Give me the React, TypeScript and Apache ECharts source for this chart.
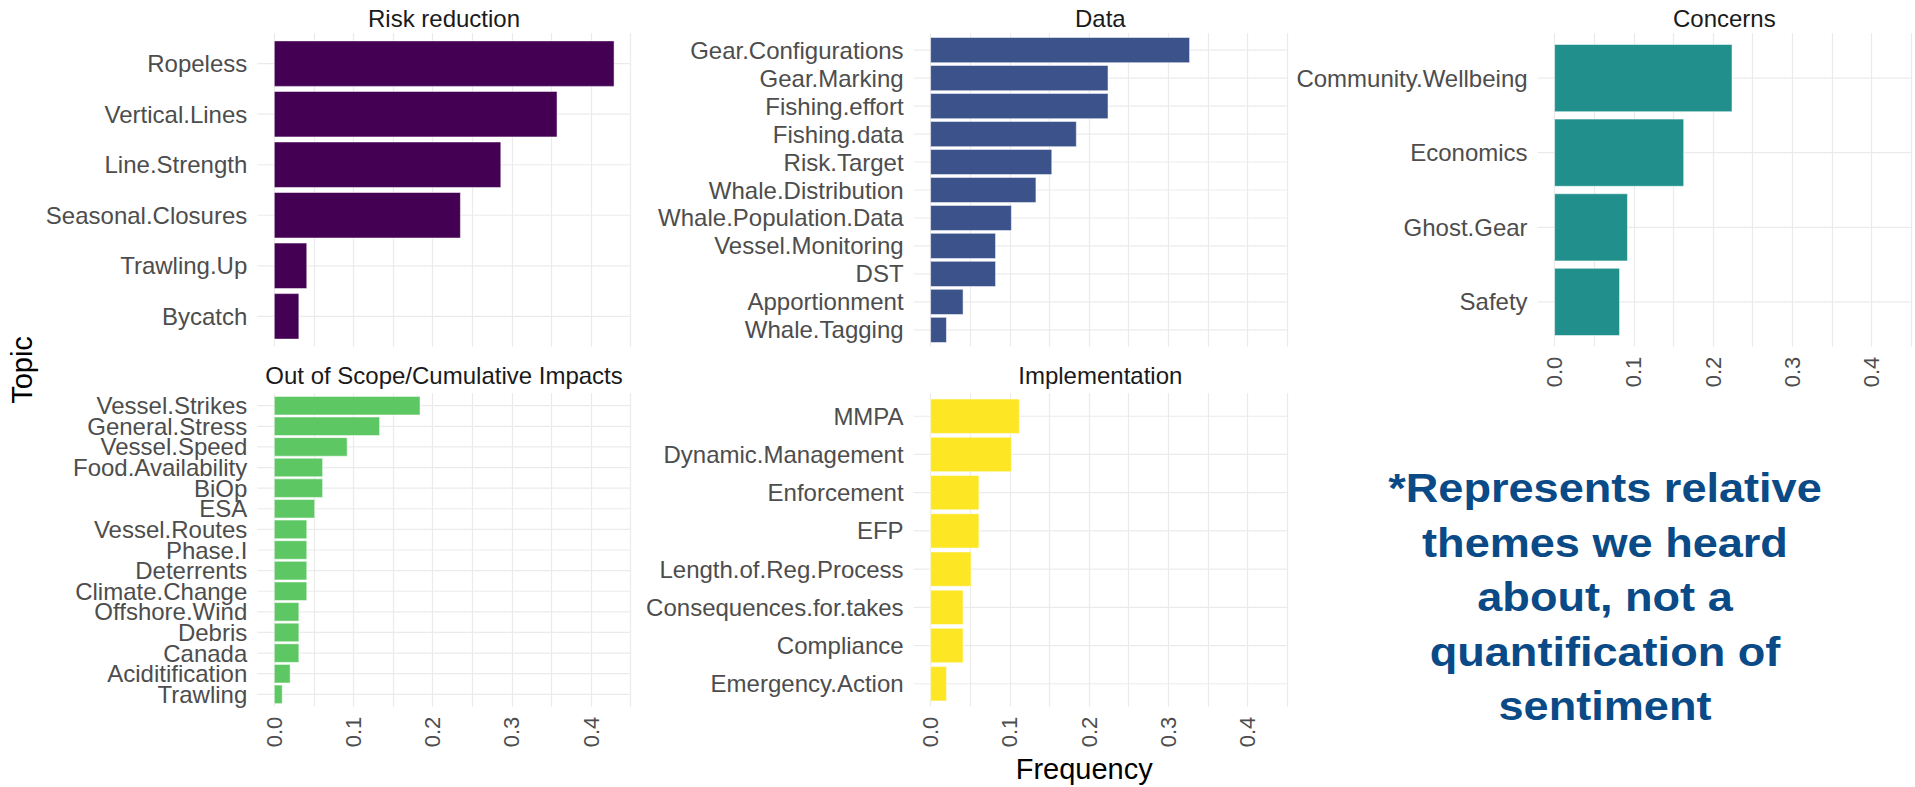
import React, { useEffect, useRef } from 'react';
import * as echarts from 'echarts';

const FONT = '"Liberation Sans", Arial, Helvetica, sans-serif';

// ---- data ----
const riskCategories = ['Ropeless', 'Vertical.Lines', 'Line.Strength', 'Seasonal.Closures', 'Trawling.Up', 'Bycatch'];
const riskValues = [0.429, 0.357, 0.286, 0.235, 0.041, 0.031];

const dataCategories = ['Gear.Configurations', 'Gear.Marking', 'Fishing.effort', 'Fishing.data', 'Risk.Target', 'Whale.Distribution', 'Whale.Population.Data', 'Vessel.Monitoring', 'DST', 'Apportionment', 'Whale.Tagging'];
const dataValues = [0.327, 0.224, 0.224, 0.184, 0.153, 0.133, 0.102, 0.082, 0.082, 0.041, 0.02];

const concernCategories = ['Community.Wellbeing', 'Economics', 'Ghost.Gear', 'Safety'];
const concernValues = [0.224, 0.163, 0.092, 0.082];

const scopeCategories = ['Vessel.Strikes', 'General.Stress', 'Vessel.Speed', 'Food.Availability', 'BiOp', 'ESA', 'Vessel.Routes', 'Phase.I', 'Deterrents', 'Climate.Change', 'Offshore.Wind', 'Debris', 'Canada', 'Aciditification', 'Trawling'];
const scopeValues = [0.184, 0.133, 0.092, 0.061, 0.061, 0.051, 0.041, 0.041, 0.041, 0.041, 0.031, 0.031, 0.031, 0.02, 0.01];

const implCategories = ['MMPA', 'Dynamic.Management', 'Enforcement', 'EFP', 'Length.of.Reg.Process', 'Consequences.for.takes', 'Compliance', 'Emergency.Action'];
const implValues = [0.112, 0.102, 0.061, 0.061, 0.051, 0.041, 0.041, 0.02];

const xTickLabels = ['0.0', '0.1', '0.2', '0.3', '0.4'];

const annotationText = '*Represents relative\nthemes we heard\nabout, not a\nquantification of\nsentiment';

// ---- layout ----
const COL_X0 = [274.3, 930.6, 1554.6];
const ROW_TOP = [33.3, 393.3];
const PANEL_H = 313.4;
const PX_PER_UNIT = 792;
const X_MIN = -0.0214;
const X_MAX = 0.45;
const UNIT = 5; // category spacing in y-axis units
const HALF = 0.45 * UNIT;
const GRID_COLOR = '#EBEBEB';

const panels = [
  { title: 'Risk reduction', cats: riskCategories, vals: riskValues, color: '#440154', col: 0, row: 0, showX: false },
  { title: 'Data', cats: dataCategories, vals: dataValues, color: '#3B528B', col: 1, row: 0, showX: false },
  { title: 'Concerns', cats: concernCategories, vals: concernValues, color: '#21908C', col: 2, row: 0, showX: true },
  { title: 'Out of Scope/Cumulative Impacts', cats: scopeCategories, vals: scopeValues, color: '#5DC863', col: 0, row: 1, showX: true },
  { title: 'Implementation', cats: implCategories, vals: implValues, color: '#FDE725', col: 1, row: 1, showX: true },
];

export default function App() {
  const ref = useRef<HTMLDivElement>(null);

  useEffect(() => {
    if (!ref.current) return;
    const chart = echarts.init(ref.current, undefined, { renderer: 'svg' });

    const grids: any[] = [];
    const xAxes: any[] = [];
    const yAxes: any[] = [];
    const series: any[] = [];
    const graphics: any[] = [];

    panels.forEach((p, k) => {
      const n = p.cats.length;
      grids.push({
        left: COL_X0[p.col],
        top: ROW_TOP[p.row],
        width: X_MAX * PX_PER_UNIT,
        height: PANEL_H,
        containLabel: false,
      });
      xAxes.push({
        type: 'value',
        gridIndex: k,
        min: 0,
        max: X_MAX,
        interval: 0.05,
        axisLine: { show: false, onZero: false },
        axisTick: { show: false },
        splitLine: { show: true, lineStyle: { color: GRID_COLOR, width: 1.2 } },
        axisLabel: {
          show: p.showX,
          rotate: 90,
          margin: 10,
          fontSize: 22,
          fontFamily: FONT,
          color: '#4D4D4D',
          formatter: (v: number) => {
            const t = Math.round(v * 10);
            if (Math.abs(v * 10 - t) < 1e-6 && t >= 0 && t < xTickLabels.length) return xTickLabels[t];
            return '';
          },
        },
      });
      yAxes.push({
        type: 'value',
        gridIndex: k,
        inverse: true,
        min: -3,
        max: (n - 1) * UNIT + 3,
        interval: 1,
        axisLine: { show: false, onZero: false },
        axisTick: { show: false },
        splitLine: { show: false },
        axisLabel: {
          margin: 27,
          fontSize: 24,
          fontFamily: FONT,
          color: '#4D4D4D',
          formatter: (v: number) => {
            const r = Math.round(v);
            if (Math.abs(v - r) < 1e-6 && r % UNIT === 0 && r >= 0 && r / UNIT < n) return p.cats[r / UNIT];
            return '';
          },
        },
      });
      // horizontal grid lines at category centres
      series.push({
        type: 'custom',
        xAxisIndex: k,
        yAxisIndex: k,
        z: 1,
        silent: true,
        clip: false,
        encode: { x: 0, y: 1 },
        data: p.cats.map((_, i) => [0, i * UNIT]),
        renderItem: (_params: any, api: any) => {
          const y = api.value(1);
          const a = api.coord([X_MIN, y]);
          const b = api.coord([X_MAX, y]);
          return {
            type: 'line',
            shape: { x1: a[0], y1: a[1], x2: b[0], y2: b[1] },
            style: { stroke: GRID_COLOR, lineWidth: 1.2 },
          };
        },
      });
      // bars
      series.push({
        type: 'custom',
        name: p.title,
        xAxisIndex: k,
        yAxisIndex: k,
        z: 3,
        encode: { x: 0, y: 1 },
        data: p.vals.map((v, i) => [v, i * UNIT]),
        renderItem: (_params: any, api: any) => {
          const v = api.value(0);
          const y = api.value(1);
          const a = api.coord([0, y - HALF]);
          const b = api.coord([v, y + HALF]);
          return {
            type: 'rect',
            shape: {
              x: Math.min(a[0], b[0]),
              y: Math.min(a[1], b[1]),
              width: Math.abs(b[0] - a[0]),
              height: Math.abs(b[1] - a[1]),
            },
            style: { fill: p.color, stroke: 'rgba(255,255,255,0.5)', lineWidth: 1 },
          };
        },
      });
      // panel (strip) title
      graphics.push({
        type: 'text',
        x: COL_X0[p.col] + ((X_MIN + X_MAX) / 2) * PX_PER_UNIT,
        y: p.row === 0 ? 18.5 : 375,
        style: {
          text: p.title,
          fontSize: 24,
          fontFamily: FONT,
          fill: '#1A1A1A',
          align: 'center',
          verticalAlign: 'middle',
        },
      });
    });

    const plotLeft = COL_X0[0] + X_MIN * PX_PER_UNIT;
    const plotRight = COL_X0[2] + X_MAX * PX_PER_UNIT;

    graphics.push({
      type: 'text',
      x: 21.5,
      y: (ROW_TOP[0] + ROW_TOP[1] + PANEL_H) / 2,
      rotation: Math.PI / 2,
      style: {
        text: 'Topic',
        fontSize: 29,
        fontFamily: FONT,
        fill: '#000000',
        align: 'center',
        verticalAlign: 'middle',
      },
    });
    graphics.push({
      type: 'text',
      x: (plotLeft + plotRight) / 2,
      y: 769,
      style: {
        text: 'Frequency',
        fontSize: 29,
        fontFamily: FONT,
        fill: '#000000',
        align: 'center',
        verticalAlign: 'middle',
      },
    });
    graphics.push({
      type: 'text',
      x: 1605,
      y: 597,
      scaleX: 1.1,
      style: {
        text: annotationText,
        fontSize: 41,
        fontWeight: 'bold',
        fontFamily: FONT,
        fill: '#0A4A86',
        align: 'center',
        verticalAlign: 'middle',
        lineHeight: 54.5,
      },
    });

    chart.setOption({
      animation: false,
      backgroundColor: '#FFFFFF',
      textStyle: { fontFamily: FONT },
      grid: grids,
      xAxis: xAxes,
      yAxis: yAxes,
      series,
      graphic: graphics,
    });

    return () => {
      chart.dispose();
    };
  }, []);

  return (
    <div
      ref={ref}
      style={{ position: 'fixed', left: 0, top: 0, width: 1915, height: 787, background: '#FFFFFF' }}
    />
  );
}
